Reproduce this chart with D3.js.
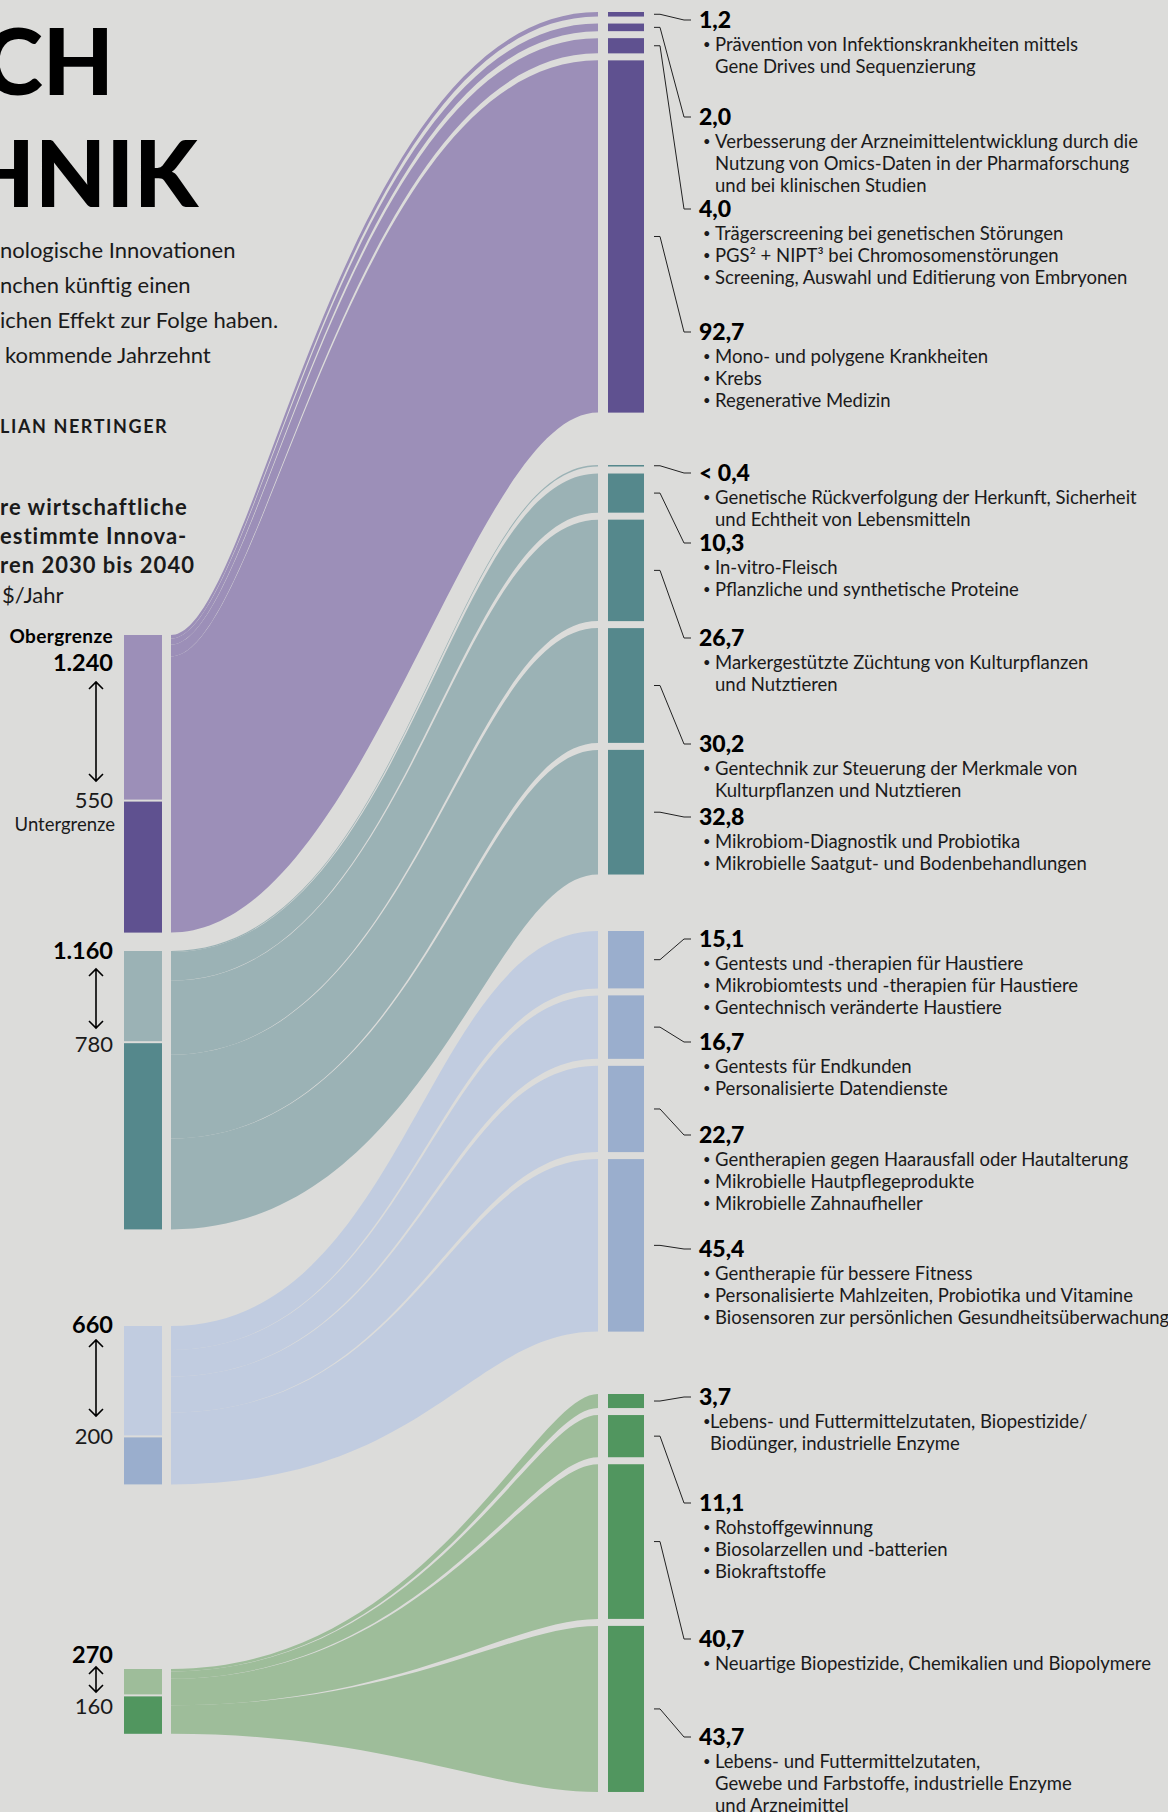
<!DOCTYPE html>
<html>
<head>
<meta charset="utf-8">
<script src="https://cdn.jsdelivr.net/npm/d3@7"></script>
<style>
    body { margin: 0; background: #dcdcda; }
    svg { display: block; font-family: Lato, "Noto Sans", sans-serif; }
    .bold { font-weight: 700; }
</style>
</head>
<body>
<svg class="chart"></svg>
<script>
(function () {
    // Spannen pro Branche (Mrd. $/Jahr): Obergrenze / Untergrenze
    const upperBounds = [1240, 1160, 660, 270];
    const lowerBounds = [550, 780, 200, 160];
    const upperLabels = ["1.240", "1.160", "660", "270"];
    const lowerLabels = ["550", "780", "200", "160"];

    // Anteile der Innovationen je Branche (%)
    const purpleShares = [1.2, 2.0, 4.0, 92.7];
    const tealShares = [0.4, 10.3, 26.7, 30.2, 32.8];
    const blueShares = [15.1, 16.7, 22.7, 45.4];
    const greenShares = [3.7, 11.1, 40.7, 43.7];

    const purpleShareLabels = ["1,2", "2,0", "4,0", "92,7"];
    const tealShareLabels = ["< 0,4", "10,3", "26,7", "30,2", "32,8"];
    const blueShareLabels = ["15,1", "16,7", "22,7", "45,4"];
    const greenShareLabels = ["3,7", "11,1", "40,7", "43,7"];

    const purpleItems = [
        ["• Prävention von Infektionskrankheiten mittels", "Gene Drives und Sequenzierung"],
        ["• Verbesserung der Arzneimittelentwicklung durch die", "Nutzung von Omics-Daten in der Pharmaforschung", "und bei klinischen Studien"],
        ["• Trägerscreening bei genetischen Störungen", "• PGS² + NIPT³ bei Chromosomenstörungen", "• Screening, Auswahl und Editierung von Embryonen"],
        ["• Mono- und polygene Krankheiten", "• Krebs", "• Regenerative Medizin"]
    ];
    const tealItems = [
        ["• Genetische Rückverfolgung der Herkunft, Sicherheit", "und Echtheit von Lebensmitteln"],
        ["• In-vitro-Fleisch", "• Pflanzliche und synthetische Proteine"],
        ["• Markergestützte Züchtung von Kulturpflanzen", "und Nutztieren"],
        ["• Gentechnik zur Steuerung der Merkmale von", "Kulturpflanzen und Nutztieren"],
        ["• Mikrobiom-Diagnostik und Probiotika", "• Mikrobielle Saatgut- und Bodenbehandlungen"]
    ];
    const blueItems = [
        ["• Gentests und -therapien für Haustiere", "• Mikrobiomtests und -therapien für Haustiere", "• Gentechnisch veränderte Haustiere"],
        ["• Gentests für Endkunden", "• Personalisierte Datendienste"],
        ["• Gentherapien gegen Haarausfall oder Hautalterung", "• Mikrobielle Hautpflegeprodukte", "• Mikrobielle Zahnaufheller"],
        ["• Gentherapie für bessere Fitness", "• Personalisierte Mahlzeiten, Probiotika und Vitamine", "• Biosensoren zur persönlichen Gesundheitsüberwachung"]
    ];
    const greenItems = [
        ["•Lebens- und Futtermittelzutaten, Biopestizide/", "Biodünger, industrielle Enzyme"],
        ["• Rohstoffgewinnung", "• Biosolarzellen und -batterien", "• Biokraftstoffe"],
        ["• Neuartige Biopestizide, Chemikalien und Biopolymere"],
        ["• Lebens- und Futtermittelzutaten,", "Gewebe und Farbstoffe, industrielle Enzyme", "und Arzneimittel"]
    ];

    const groups = [
        { shares: purpleShares, labels: purpleShareLabels, items: purpleItems, light: "#9c8fb8", dark: "#5f5190" },
        { shares: tealShares, labels: tealShareLabels, items: tealItems, light: "#9bb2b5", dark: "#55888c" },
        { shares: blueShares, labels: blueShareLabels, items: blueItems, light: "#c1cce0", dark: "#9aaecd" },
        { shares: greenShares, labels: greenShareLabels, items: greenItems, light: "#9ebd9a", dark: "#51965f" }
    ];

    // layout
    const width = 1168, height = 1812;
    const bg = "#dcdcda";
    const ink = "#1a1a1a";
    const leftBarX = 124, leftBarW = 38;
    const flowX0 = 171, flowX1 = 598;
    const rightBarX = 608, rightBarW = 36;
    const barGap = 7;
    const leftTops = [635, 951, 1326, 1669];
    const rightTops = [12, 465, 931, 1394];
    const upperLabelY = [671, 959, 1333, 1663];
    const lowerLabelY = [808, 1052, 1444, 1714];
    const arrowTop = [682, 969, 1340, 1667];
    const arrowBottom = [781, 1028, 1416, 1692];
    const valueLabelY = [
        [28, 125, 217, 340],
        [481, 551, 646, 752, 825],
        [947, 1050, 1143, 1257],
        [1405, 1511, 1647, 1745]
    ];
    const noteX = 699, bulletX = 703, textX = 715, tightX = 710;
    // curve handles (fraction of flow width) for the top and bottom edge of each group
    const curveShape = [
        { top: [0.2, 0.6], bottom: [0.45, 0.3] },
        { top: [0.55, 0.35], bottom: [0.6, 0.25] },
        { top: [0.55, 0.4], bottom: [0.6, 0.3] },
        { top: [0.6, 0.15], bottom: [0.5, 0.25] }
    ];

    const yLeft = d3.scaleLinear().domain([0, 1240]).range([0, 297.6]);
    const yRight = d3.scaleLinear().domain([0, 100]).range([0, 380]);

    let svg = d3.select("svg.chart")
        .attr("width", width)
        .attr("height", height);

    svg.append("rect").attr("width", width).attr("height", height).attr("fill", bg);

    // Title and intro (cut off on the left in the original)
    svg.append("text").attr("x", 114).attr("y", 95).attr("text-anchor", "end")
        .attr("font-size", 92).attr("font-weight", 900).attr("fill", "#000").text("CH");
    svg.append("text").attr("x", 198).attr("y", 207).attr("text-anchor", "end")
        .attr("font-size", 92).attr("font-weight", 900).attr("fill", "#000").text("HNIK");

    const intro = ["nologische Innovationen", "nchen künftig einen", "ichen Effekt zur Folge haben.", "kommende Jahrzehnt"];
    svg.append("g").selectAll("text").data(intro).enter().append("text")
        .attr("x", function (d, i) { return i == 3 ? 5 : 0; })
        .attr("y", function (d, i) { return 258 + i * 35; })
        .attr("font-size", 22).attr("fill", ink)
        .text(function (d) { return d; });

    svg.append("text").attr("x", 0).attr("y", 433).attr("font-size", 18).attr("class", "bold")
        .attr("letter-spacing", 1.6).attr("fill", ink).text("LIAN NERTINGER");

    const heading = ["re wirtschaftliche", "estimmte Innova-", "ren 2030 bis 2040"];
    svg.append("g").selectAll("text").data(heading).enter().append("text")
        .attr("x", 0).attr("y", function (d, i) { return 515 + i * 29; })
        .attr("font-size", 22).attr("letter-spacing", 1).attr("class", "bold").attr("fill", ink)
        .text(function (d) { return d; });
    svg.append("text").attr("x", 2).attr("y", 603).attr("font-size", 22).attr("fill", ink).text("$/Jahr");

    let flows = svg.append("g").attr("class", "flows");
    let bars = svg.append("g").attr("class", "bars");
    let notes = svg.append("g").attr("class", "notes");

    function lerp(a, b, t) { return a + (b - a) * t; }

    function edge(y0, y1, f, shape, reverse) {
        const dx = flowX1 - flowX0;
        const c1 = lerp(shape.top[0], shape.bottom[0], f);
        const c2 = lerp(shape.top[1], shape.bottom[1], f);
        if (!reverse) {
            return "C" + (flowX0 + c1 * dx) + "," + y0 + " " + (flowX1 - c2 * dx) + "," + y1 + " " + flowX1 + "," + y1;
        }
        return "C" + (flowX1 - c2 * dx) + "," + y1 + " " + (flowX0 + c1 * dx) + "," + y0 + " " + flowX0 + "," + y0;
    }

    groups.forEach(function (grp, g) {
        const leftTop = leftTops[g];
        const leftH = yLeft(upperBounds[g]);
        const split = leftTop + yLeft(upperBounds[g] - lowerBounds[g]);
        const sum = d3.sum(grp.shares);
        const cum = d3.cumsum([0].concat(grp.shares));

        const segs = grp.shares.map(function (v, i) {
            const rTop = rightTops[g] + yRight(cum[i]) + i * barGap;
            return {
                v: v,
                f0: cum[i] / sum,
                f1: cum[i + 1] / sum,
                lTop: leftTop + leftH * cum[i] / sum,
                lBot: leftTop + leftH * cum[i + 1] / sum,
                rTop: rTop,
                rBot: rTop + yRight(v)
            };
        });

        // flows
        flows.selectAll("path.g" + g).data(segs).enter().append("path")
            .attr("class", "g" + g)
            .attr("fill", grp.light)
            .attr("d", function (d) {
                return "M" + flowX0 + "," + d.lTop
                    + edge(d.lTop, d.rTop, d.f0, curveShape[g], false)
                    + "L" + flowX1 + "," + d.rBot
                    + edge(d.lBot, d.rBot, d.f1, curveShape[g], true)
                    + "Z";
            });

        // right bars
        bars.selectAll("rect.r" + g).data(segs).enter().append("rect")
            .attr("class", "r" + g)
            .attr("x", rightBarX).attr("width", rightBarW)
            .attr("y", function (d) { return d.rTop; })
            .attr("height", function (d) { return Math.max(1.5, d.rBot - d.rTop); })
            .attr("fill", grp.dark);

        // left bar: light = range between bounds, dark = lower bound
        bars.append("rect").attr("x", leftBarX).attr("width", leftBarW)
            .attr("y", leftTop).attr("height", split - leftTop - 1).attr("fill", grp.light);
        bars.append("rect").attr("x", leftBarX).attr("width", leftBarW)
            .attr("y", split + 1).attr("height", leftTop + leftH - split - 1).attr("fill", grp.dark);

        // left labels
        svg.append("text").attr("x", 113).attr("y", upperLabelY[g]).attr("text-anchor", "end")
            .attr("font-size", 23.5).attr("class", "bold").attr("fill", "#000").text(upperLabels[g]);
        svg.append("text").attr("x", 113).attr("y", lowerLabelY[g]).attr("text-anchor", "end")
            .attr("font-size", 22).attr("fill", ink).text(lowerLabels[g]);
        const ax = 96, ah = 7;
        svg.append("path")
            .attr("d", "M" + ax + "," + arrowTop[g] + "V" + arrowBottom[g]
                + "M" + (ax - ah) + "," + (arrowTop[g] + ah) + "L" + ax + "," + arrowTop[g] + "L" + (ax + ah) + "," + (arrowTop[g] + ah)
                + "M" + (ax - ah) + "," + (arrowBottom[g] - ah) + "L" + ax + "," + arrowBottom[g] + "L" + (ax + ah) + "," + (arrowBottom[g] - ah))
            .attr("fill", "none").attr("stroke", "#000").attr("stroke-width", 1.6);

        // leader lines and notes
        segs.forEach(function (d, i) {
            const yc = (d.rTop + d.rBot) / 2;
            const yl = valueLabelY[g][i] - 8;
            notes.append("path")
                .attr("d", "M654," + yc + "H660L684," + yl + "H691")
                .attr("fill", "none").attr("stroke", "#222").attr("stroke-width", 1);
            notes.append("text").attr("x", noteX).attr("y", valueLabelY[g][i])
                .attr("font-size", 23).attr("font-weight", 900).attr("fill", "#000")
                .text(grp.labels[i]);
            const tight = grp.items[i][0].indexOf("• ") != 0;
            grp.items[i].forEach(function (line, j) {
                const y = valueLabelY[g][i] + 23 + j * 22;
                if (line.indexOf("•") == 0) {
                    notes.append("text").attr("x", bulletX).attr("y", y - 2)
                        .attr("font-size", 13).attr("fill", ink).text("•");
                    notes.append("text").attr("x", tight ? tightX : textX).attr("y", y)
                        .attr("font-size", 18.5).attr("fill", ink).text(line.replace(/^•\s?/, ""));
                } else {
                    notes.append("text").attr("x", tight ? tightX : textX).attr("y", y)
                        .attr("font-size", 18.5).attr("fill", ink).text(line);
                }
            });
        });
    });

    // Ober-/Untergrenze captions
    svg.append("text").attr("x", 113).attr("y", 643).attr("text-anchor", "end")
        .attr("font-size", 19).attr("letter-spacing", 0.4).attr("class", "bold").attr("fill", "#000").text("Obergrenze");
    svg.append("text").attr("x", 115).attr("y", 831).attr("text-anchor", "end")
        .attr("font-size", 18.5).attr("fill", ink).text("Untergrenze");
}());
</script>
</body>
</html>
